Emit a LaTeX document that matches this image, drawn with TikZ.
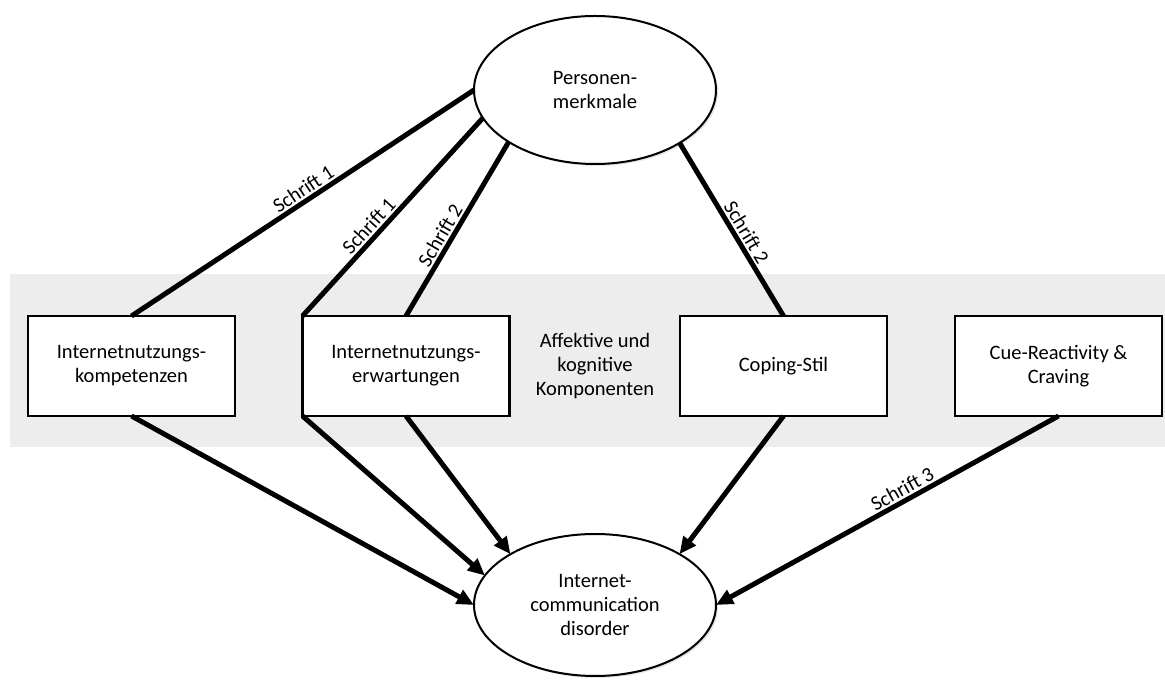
\documentclass[tikz,border=0pt]{standalone}
\usepackage{fontspec}
\setmainfont{Carlito}
\usetikzlibrary{arrows.meta,shapes.geometric,shadows}

\begin{document}
\begin{tikzpicture}[
  x=1pt, y=1pt, >={Triangle[length=17pt,width=15pt]},
  every node/.style={font=\fontsize{20.5}{24}\selectfont},
  factor/.style={draw, line width=2.5pt, fill=white, minimum width=207pt,
                 minimum height=100pt, align=center, outer sep=0pt},
  outcome/.style={draw, ellipse, line width=2pt, fill=white, align=center,
                  minimum width=242pt, outer sep=0pt,
                  drop shadow={shadow xshift=2pt, shadow yshift=-2pt, opacity=.2}},
  link/.style={line width=5pt},
  lbl/.style={sloped, above, inner sep=2pt}
]
  \useasboundingbox (0,0) rectangle (1165,680);
  % grey band behind the middle row
  \fill[black!7] (10,233) rectangle (1165,406);

  \node[outcome, minimum height=148pt] (pers) at (595,590) {Personen-\\merkmale};
  \node[factor] (komp) at (131.5,314) {Internetnutzungs-\\kompetenzen};
  \node[factor] (erw) at (406,314) {Internetnutzungs-\\erwartungen};
  \node[align=center] (affkog) at (595,314) {Affektive und\\kognitive\\Komponenten};
  \node[factor] (coping) at (783.5,314) {Coping-Stil};
  \node[factor] (cue) at (1058.5,314) {Cue-Reactivity \&\\Craving};
  \node[outcome, minimum height=142pt] (icd) at (595,75) {Internet-\\communication\\disorder};

  \draw[link] (pers.180) -- node[lbl, pos=.48] {Schrift 1} (komp.north);
  \draw[link] (pers.194) -- node[lbl, pos=.585] {Schrift 1} (erw.north west);
  \draw[link] (pers.211) -- node[lbl, pos=.57] {Schrift 2} (erw.north);
  \draw[link] (pers.328) -- node[lbl, pos=.55] {Schrift 2} (coping.north);

  \draw[link, ->] (komp.south) -- (icd.180);
  \draw[link, ->] (erw.south west) -- (icd.165);
  \draw[link, ->] (erw.south) -- (icd.149);
  \draw[link, ->] (coping.south) -- (icd.31);
  \draw[link, ->] (cue.south) -- node[lbl, pos=.44] {Schrift 3} (icd.0);
\end{tikzpicture}
\end{document}
